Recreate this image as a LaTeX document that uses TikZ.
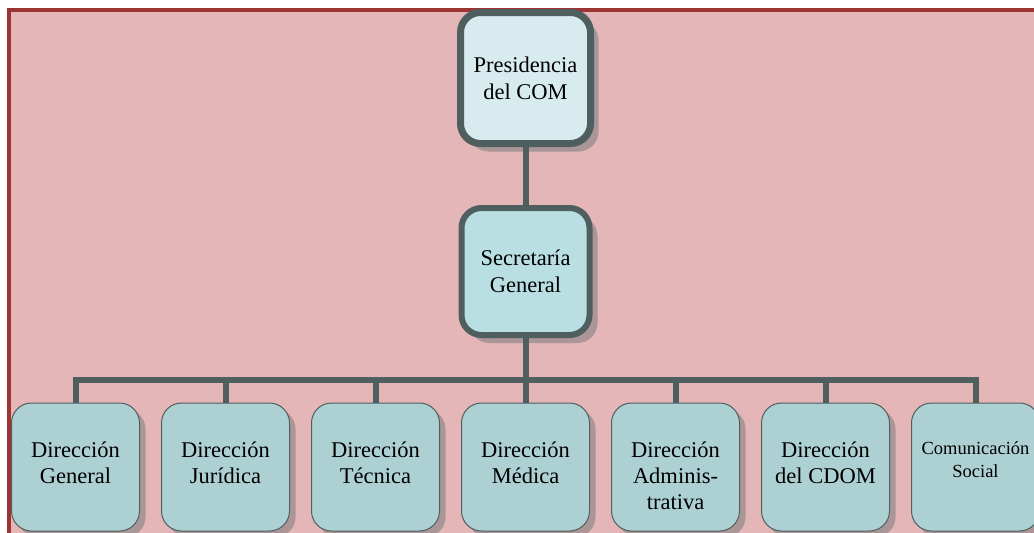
\documentclass[tikz,border=0pt]{standalone}
\usepackage{fontspec}
\setmainfont{Liberation Serif}
\usepackage{tikz}
\usetikzlibrary{positioning,shadows}
\definecolor{pinkbg}{RGB}{229,182,183}
\definecolor{framered}{RGB}{156,52,52}
\definecolor{linegray}{RGB}{79,94,94}
\definecolor{topfill}{RGB}{216,236,240}
\definecolor{secfill}{RGB}{185,223,227}
\definecolor{dirfill}{RGB}{173,208,211}
\definecolor{shadowcol}{RGB}{170,150,151}
\tikzset{
  head/.style={rectangle, rounded corners=20pt, draw=linegray, line width=6pt,
    minimum width=128pt, minimum height=127pt, align=center,
    font=\fontsize{22.5}{27}\selectfont,
    drop shadow={shadow xshift=8pt, shadow yshift=-8pt, fill=shadowcol, opacity=1}},
  unit/.style={rectangle, rounded corners=20pt, draw=linegray, line width=1pt,
    fill=dirfill, minimum width=128pt, minimum height=128pt, inner sep=5pt,
    align=center, text height=75pt, text depth=43pt,
    font=\fontsize{22.5}{26}\selectfont,
    drop shadow={shadow xshift=6pt, shadow yshift=-6pt, fill=shadowcol, opacity=1}},
  unit3/.style={unit, text height=101pt, text depth=17pt},
  link/.style={draw=linegray, line width=6pt}}

\begin{document}
\begin{tikzpicture}
  \useasboundingbox (0,0) rectangle (1034pt,-533pt);
  \clip (0,0) rectangle (1034pt,-533pt);
  % background frame
  \fill[pinkbg] (7pt,-8pt) rectangle (1034pt,-533pt);
  \draw[framered, line width=4pt] (9pt,-533pt) -- (9pt,-10pt) -- (1034pt,-10pt);

  \node[head, fill=topfill, minimum width=130pt, minimum height=131pt, line width=7pt]
    (pres) at (525.5pt,-78pt) {Presidencia\\del COM};
  \node[head, fill=secfill] (sec) [below=58pt of pres] {Secretaría\\General};

  \node[unit] (dmed) [below=64.5pt of sec] {Dirección\\Médica};
  \node[unit] (dtec) [left=21pt of dmed]   {Dirección\\Técnica};
  \node[unit] (djur) [left=21pt of dtec]   {Dirección\\Jurídica};
  \node[unit] (dgen) [left=21pt of djur]   {Dirección\\General};
  \node[unit3] (dadm) [right=21pt of dmed] {Dirección\\Adminis-\\trativa};
  \node[unit] (dcdom) [right=21pt of dadm] {Dirección\\del CDOM};
  \node[unit, text height=69pt, text depth=49pt,
    font=\fontsize{18.5}{23}\selectfont] (com) [right=21pt of dcdom] {Comunicación\\Social};

  \coordinate (bar) at ([yshift=-42pt]sec.south);
  \path[link]
    (pres) -- (sec)
    (sec) -- (dmed)
    (dgen.north) |- (bar) -| (com.north)
    (djur.north |- bar) -- (djur.north)
    (dtec.north |- bar) -- (dtec.north)
    (dadm.north |- bar) -- (dadm.north)
    (dcdom.north |- bar) -- (dcdom.north);
\end{tikzpicture}
\end{document}
